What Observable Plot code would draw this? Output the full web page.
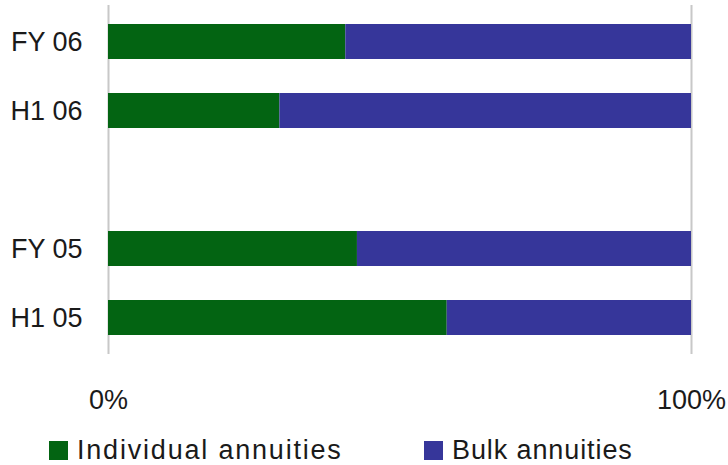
<!DOCTYPE html>
<html>
<head>
<meta charset="utf-8">
<script src="https://cdn.jsdelivr.net/npm/d3@7"></script>
<script src="https://cdn.jsdelivr.net/npm/@observablehq/plot@0.6"></script>
<style>
  html, body { margin: 0; padding: 0; background: #fff; }
  #wrap { position: relative; width: 728px; height: 465px; font-family: "Liberation Sans", Arial, sans-serif; color: #1a1a1a; }
  #legend { position: absolute; left: 0; top: 420px; width: 728px; height: 45px; }
  .sw { position: absolute; width: 19px; height: 19px; }
  .lab { position: absolute; font-size: 27px; line-height: 27px; white-space: nowrap; }
</style>
</head>
<body>
<div id="wrap">
  <div id="chart"></div>
  <div id="legend"></div>
</div>
<script>
// Share of new business by annuity type, per reporting period
const periods = ["FY 06", "H1 06", "FY 05", "H1 05"];
const individual = [40.7, 29.4, 42.7, 58.1];
const bulk = [59.3, 70.6, 57.3, 41.9];
const seriesNames = ["Individual annuities", "Bulk annuities"];
const seriesColors = ["#036412", "#36369a"];
const xTicks = [0, 100];
// blank slot separating the 2006 and 2005 periods
const yDomain = ["FY 06", "H1 06", "", "FY 05", "H1 05"];

const rows = [];
periods.forEach((p, i) => {
  rows.push({period: p, series: seriesNames[0], value: individual[i]});
  rows.push({period: p, series: seriesNames[1], value: bulk[i]});
});

const chart = Plot.plot({
  width: 728,
  height: 420,
  marginTop: 5,
  marginBottom: 66,
  marginLeft: 108,
  marginRight: 37,
  style: {fontFamily: "'Liberation Sans', Arial, sans-serif", fontSize: "27px", color: "#1a1a1a", background: "#fff"},
  x: {domain: [0, 100], ticks: xTicks, tickFormat: d => d + "%", tickSize: 0, tickPadding: 35, label: null},
  y: {domain: yDomain, paddingInner: 0.5, paddingOuter: 0.25, ticks: periods, tickSize: 0, tickPadding: 26, label: null},
  color: {domain: seriesNames, range: seriesColors},
  marks: [
    Plot.ruleX(xTicks, {stroke: "#c8c8c8", strokeWidth: 2}),
    Plot.barX(rows, Plot.stackX({y: "period", x: "value", fill: "series", order: seriesNames})),
  ]
});
document.getElementById("chart").appendChild(chart);

// legend below the plot
const legend = d3.select("#legend");
const items = [
  {name: seriesNames[0], color: seriesColors[0], sx: 49, tx: 77, ls: 1.8},
  {name: seriesNames[1], color: seriesColors[1], sx: 424, tx: 452, ls: 0.9}
];
items.forEach(it => {
  legend.append("div").attr("class", "sw")
    .style("left", it.sx + "px").style("top", "21px").style("background", it.color);
  legend.append("div").attr("class", "lab")
    .style("left", it.tx + "px").style("top", "17px")
    .style("letter-spacing", it.ls + "px").text(it.name);
});
</script>
</body>
</html>
